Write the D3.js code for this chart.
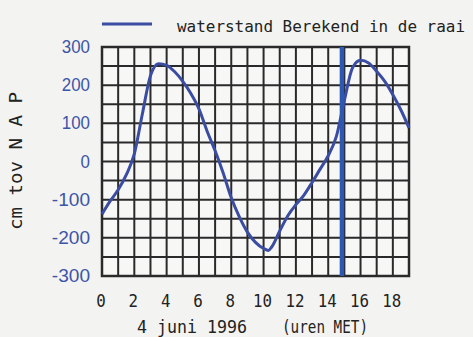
<!DOCTYPE html>
<html>
<head>
<meta charset="utf-8">
<script src="https://cdn.jsdelivr.net/npm/d3@7"></script>
<style>
html,body{margin:0;padding:0;background:#f3f3f1;}
svg{display:block;}
</style>
</head>
<body>
<svg id="chart" width="473" height="337"></svg>
<script>
// ---- data ----
const hours = [0,0.5,1,1.5,2,2.5,3,3.5,4,4.5,5,5.5,6,6.5,7,7.5,8,8.5,9,9.5,10,10.3,10.5,11,11.5,12,12.5,13,13.5,14,14.5,15,15.5,16,16.5,17,17.5,18,18.5,19];
const waterstand = [-138,-104,-74,-35,20,125,225,256,252,235,210,178,138,80,28,-30,-95,-145,-185,-212,-228,-233,-224,-182,-142,-113,-88,-55,-20,15,65,160,245,265,258,236,210,175,135,88];
const markerHour = [14.85];
const xTicks = [0,2,4,6,8,10,12,14,16,18];
const yTicks = [300,200,100,0,-100,-200,-300];
const legendLabel = "waterstand Berekend in de raai";
const xTitleDate = "4 juni 1996";
const xTitleUnit = "(uren MET)";
const yTitle = "cm tov N A P";

// ---- layout ----
const svg = d3.select("#chart");
const L = 102, R = 409, T = 47, B = 276;
const x = d3.scaleLinear().domain([0,19]).range([L,R]);
const y = d3.scaleLinear().domain([-300,300]).range([B,T]);

const curveColor = "#3a4da3";
const markerColor = "#2c58b4";
const gridColor = "#2a2a2a";

// plot background
svg.append("rect").attr("x",L).attr("y",T).attr("width",R-L).attr("height",B-T).attr("fill","#f7f7f6");

// grid
const g = svg.append("g");
g.selectAll("line.v").data(d3.range(0,20,1)).join("line")
  .attr("x1",d=>x(d)).attr("x2",d=>x(d)).attr("y1",T).attr("y2",B)
  .attr("stroke",gridColor).attr("stroke-width",2);
g.selectAll("line.h").data(d3.range(-300,301,50)).join("line")
  .attr("x1",L).attr("x2",R).attr("y1",d=>y(d)).attr("y2",d=>y(d))
  .attr("stroke",gridColor).attr("stroke-width",2);
g.append("rect").attr("x",L).attr("y",T).attr("width",R-L).attr("height",B-T)
  .attr("fill","none").attr("stroke",gridColor).attr("stroke-width",2.5);

// curve
const line = d3.line().x((d,i)=>x(hours[i])).y(d=>y(d)).curve(d3.curveMonotoneX);
svg.append("path").datum(waterstand).attr("d",line)
  .attr("fill","none").attr("stroke",curveColor).attr("stroke-width",3).attr("stroke-linejoin","round");

// marker line
svg.selectAll("line.marker").data(markerHour).join("line")
  .attr("x1",d=>x(d)).attr("x2",d=>x(d)).attr("y1",T).attr("y2",B)
  .attr("stroke",markerColor).attr("stroke-width",4.5);

// y tick labels
svg.selectAll("text.yt").data(yTicks).join("text")
  .attr("x",90).attr("y",d=>y(d)+6)
  .attr("text-anchor","end")
  .attr("font-family","Liberation Sans, Arial, sans-serif")
  .attr("font-size",19)
  .attr("fill","#3d55a8")
  .attr("textLength",d=>{const s=String(d); return s.replace("-","").length*9.4 + (d<0?10:0);})
  .attr("lengthAdjust","spacingAndGlyphs")
  .text(d=>d);

// x tick labels
svg.selectAll("text.xt").data(xTicks).join("text")
  .attr("x",d=>x(d)-1).attr("y",307)
  .attr("text-anchor","middle")
  .attr("font-family","DejaVu Sans Mono, monospace")
  .attr("font-size",18)
  .attr("fill","#222")
  .attr("textLength",d=>String(d).length*9.5)
  .attr("lengthAdjust","spacingAndGlyphs")
  .text(d=>d);

// x titles
svg.append("text").attr("x",137).attr("y",333)
  .attr("font-family","DejaVu Sans Mono, monospace").attr("font-size",17).attr("fill","#222")
  .attr("textLength",110).attr("lengthAdjust","spacingAndGlyphs").text(xTitleDate);
svg.append("text").attr("x",282).attr("y",333)
  .attr("font-family","DejaVu Sans Mono, monospace").attr("font-size",17).attr("fill","#222")
  .attr("textLength",86).attr("lengthAdjust","spacingAndGlyphs").text(xTitleUnit);

// y title
svg.append("text").attr("transform","translate(22,161) rotate(-90)")
  .attr("text-anchor","middle")
  .attr("font-family","DejaVu Sans Mono, monospace").attr("font-size",17).attr("fill","#222")
  .attr("textLength",138).attr("lengthAdjust","spacingAndGlyphs").text(yTitle);

// legend
svg.append("line").attr("x1",102).attr("x2",152).attr("y1",24).attr("y2",24)
  .attr("stroke",curveColor).attr("stroke-width",3);
svg.append("text").attr("x",177).attr("y",32)
  .attr("font-family","DejaVu Sans Mono, monospace").attr("font-size",16).attr("fill","#222")
  .attr("textLength",288).attr("lengthAdjust","spacingAndGlyphs").text(legendLabel);
</script>
</body>
</html>
